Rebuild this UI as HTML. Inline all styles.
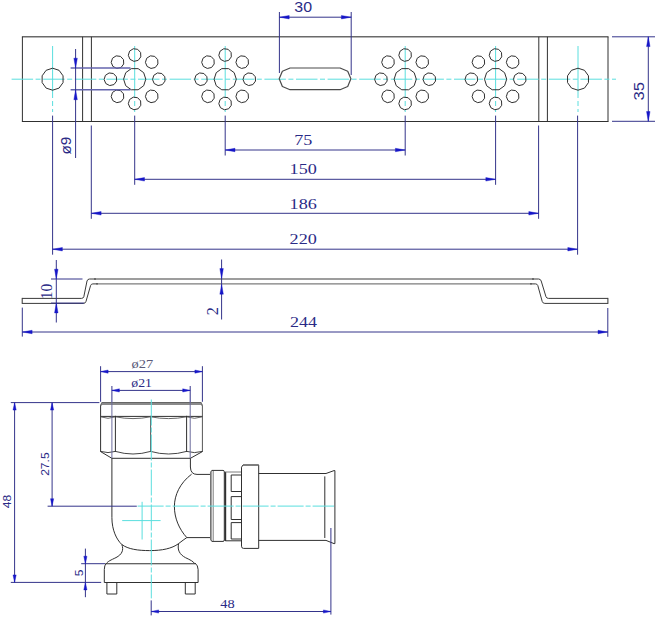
<!DOCTYPE html>
<html lang="en">
<head>
<meta charset="utf-8">
<title>Mounting plate and press fitting - dimensional drawing</title>
<style>
html,body{margin:0;padding:0;background:#ffffff;}
body{width:655px;height:619px;overflow:hidden;font-family:"Liberation Sans",sans-serif;}
svg{display:block;}
</style>
</head>
<body>
<svg width="655" height="619" viewBox="0 0 655 619" fill="none" stroke-linecap="butt">
<rect x="0" y="0" width="655" height="619" fill="#ffffff"/>
<line x1="21.90" y1="36.80" x2="608.50" y2="36.80" stroke="#6a6a6a" stroke-width="1.4" />
<line x1="22.40" y1="36.80" x2="22.40" y2="121.50" stroke="#303030" stroke-width="1.0" />
<line x1="608.00" y1="36.80" x2="608.00" y2="121.50" stroke="#303030" stroke-width="1.0" />
<line x1="21.90" y1="121.50" x2="608.50" y2="121.50" stroke="#303030" stroke-width="1.0" />
<line x1="82.60" y1="36.80" x2="82.60" y2="121.50" stroke="#303030" stroke-width="1.0" />
<line x1="91.40" y1="36.80" x2="91.40" y2="121.50" stroke="#303030" stroke-width="1.0" />
<line x1="538.80" y1="36.80" x2="538.80" y2="121.50" stroke="#303030" stroke-width="1.0" />
<line x1="547.40" y1="36.80" x2="547.40" y2="121.50" stroke="#303030" stroke-width="1.0" />
<line x1="11.60" y1="79.20" x2="616.00" y2="79.20" stroke="#5adede" stroke-width="1.0" stroke-dasharray="21.5 2.5 5 2.6"/>
<line x1="52.60" y1="46.00" x2="52.60" y2="112.00" stroke="#5adede" stroke-width="1.0" stroke-dasharray="52 3 5 3"/>
<line x1="134.70" y1="46.00" x2="134.70" y2="112.00" stroke="#5adede" stroke-width="1.0" stroke-dasharray="52 3 5 3"/>
<line x1="225.20" y1="46.00" x2="225.20" y2="112.00" stroke="#5adede" stroke-width="1.0" stroke-dasharray="52 3 5 3"/>
<line x1="405.20" y1="46.00" x2="405.20" y2="112.00" stroke="#5adede" stroke-width="1.0" stroke-dasharray="52 3 5 3"/>
<line x1="495.60" y1="46.00" x2="495.60" y2="112.00" stroke="#5adede" stroke-width="1.0" stroke-dasharray="52 3 5 3"/>
<line x1="578.00" y1="46.00" x2="578.00" y2="112.00" stroke="#5adede" stroke-width="1.0" stroke-dasharray="52 3 5 3"/>
<polygon points="52.60,90.20 46.13,88.10 42.14,82.60 42.14,75.80 46.13,70.30 52.60,68.20 59.07,70.30 63.06,75.80 63.06,82.60 59.07,88.10" stroke="#303030" stroke-width="1.0" fill="none" stroke-linejoin="round"/>
<polygon points="578.00,90.20 571.53,88.10 567.54,82.60 567.54,75.80 571.53,70.30 578.00,68.20 584.47,70.30 588.46,75.80 588.46,82.60 584.47,88.10" stroke="#303030" stroke-width="1.0" fill="none" stroke-linejoin="round"/>
<polygon points="145.80,79.20 143.68,85.72 138.13,89.76 131.27,89.76 125.72,85.72 123.60,79.20 125.72,72.68 131.27,68.64 138.13,68.64 143.68,72.68" stroke="#303030" stroke-width="1.0" fill="none" stroke-linejoin="round"/>
<polygon points="165.01,81.09 162.37,84.58 158.10,85.55 154.20,83.55 152.51,79.51 153.80,75.33 157.48,72.96 161.82,73.51 164.80,76.72" stroke="#303030" stroke-width="1.0" fill="none" stroke-linejoin="round"/>
<polygon points="157.93,98.20 155.28,101.69 151.01,102.66 147.12,100.66 145.42,96.63 146.71,92.44 150.39,90.07 154.74,90.62 157.71,93.83" stroke="#303030" stroke-width="1.0" fill="none" stroke-linejoin="round"/>
<polygon points="140.81,105.29 138.17,108.78 133.90,109.75 130.00,107.75 128.31,103.71 129.60,99.53 133.28,97.16 137.62,97.71 140.60,100.92" stroke="#303030" stroke-width="1.0" fill="none" stroke-linejoin="round"/>
<polygon points="123.70,98.20 121.06,101.69 116.79,102.66 112.89,100.66 111.20,96.63 112.49,92.44 116.17,90.07 120.51,90.62 123.49,93.83" stroke="#303030" stroke-width="1.0" fill="none" stroke-linejoin="round"/>
<polygon points="116.61,81.09 113.97,84.58 109.70,85.55 105.80,83.55 104.11,79.51 105.40,75.33 109.08,72.96 113.42,73.51 116.40,76.72" stroke="#303030" stroke-width="1.0" fill="none" stroke-linejoin="round"/>
<polygon points="123.70,63.98 121.06,67.47 116.79,68.44 112.89,66.44 111.20,62.40 112.49,58.22 116.17,55.85 120.51,56.40 123.49,59.61" stroke="#303030" stroke-width="1.0" fill="none" stroke-linejoin="round"/>
<polygon points="140.81,56.89 138.17,60.38 133.90,61.35 130.00,59.35 128.31,55.31 129.60,51.13 133.28,48.76 137.62,49.31 140.60,52.52" stroke="#303030" stroke-width="1.0" fill="none" stroke-linejoin="round"/>
<polygon points="157.93,63.98 155.28,67.47 151.01,68.44 147.12,66.44 145.42,62.40 146.71,58.22 150.39,55.85 154.74,56.40 157.71,59.61" stroke="#303030" stroke-width="1.0" fill="none" stroke-linejoin="round"/>
<polygon points="236.30,79.20 234.18,85.72 228.63,89.76 221.77,89.76 216.22,85.72 214.10,79.20 216.22,72.68 221.77,68.64 228.63,68.64 234.18,72.68" stroke="#303030" stroke-width="1.0" fill="none" stroke-linejoin="round"/>
<polygon points="255.51,81.09 252.87,84.58 248.60,85.55 244.70,83.55 243.01,79.51 244.30,75.33 247.98,72.96 252.32,73.51 255.30,76.72" stroke="#303030" stroke-width="1.0" fill="none" stroke-linejoin="round"/>
<polygon points="248.43,98.20 245.78,101.69 241.51,102.66 237.62,100.66 235.92,96.63 237.21,92.44 240.89,90.07 245.24,90.62 248.21,93.83" stroke="#303030" stroke-width="1.0" fill="none" stroke-linejoin="round"/>
<polygon points="231.31,105.29 228.67,108.78 224.40,109.75 220.50,107.75 218.81,103.71 220.10,99.53 223.78,97.16 228.12,97.71 231.10,100.92" stroke="#303030" stroke-width="1.0" fill="none" stroke-linejoin="round"/>
<polygon points="214.20,98.20 211.56,101.69 207.29,102.66 203.39,100.66 201.70,96.63 202.99,92.44 206.67,90.07 211.01,90.62 213.99,93.83" stroke="#303030" stroke-width="1.0" fill="none" stroke-linejoin="round"/>
<polygon points="207.11,81.09 204.47,84.58 200.20,85.55 196.30,83.55 194.61,79.51 195.90,75.33 199.58,72.96 203.92,73.51 206.90,76.72" stroke="#303030" stroke-width="1.0" fill="none" stroke-linejoin="round"/>
<polygon points="214.20,63.98 211.56,67.47 207.29,68.44 203.39,66.44 201.70,62.40 202.99,58.22 206.67,55.85 211.01,56.40 213.99,59.61" stroke="#303030" stroke-width="1.0" fill="none" stroke-linejoin="round"/>
<polygon points="231.31,56.89 228.67,60.38 224.40,61.35 220.50,59.35 218.81,55.31 220.10,51.13 223.78,48.76 228.12,49.31 231.10,52.52" stroke="#303030" stroke-width="1.0" fill="none" stroke-linejoin="round"/>
<polygon points="248.43,63.98 245.78,67.47 241.51,68.44 237.62,66.44 235.92,62.40 237.21,58.22 240.89,55.85 245.24,56.40 248.21,59.61" stroke="#303030" stroke-width="1.0" fill="none" stroke-linejoin="round"/>
<polygon points="416.30,79.20 414.18,85.72 408.63,89.76 401.77,89.76 396.22,85.72 394.10,79.20 396.22,72.68 401.77,68.64 408.63,68.64 414.18,72.68" stroke="#303030" stroke-width="1.0" fill="none" stroke-linejoin="round"/>
<polygon points="435.51,81.09 432.87,84.58 428.60,85.55 424.70,83.55 423.01,79.51 424.30,75.33 427.98,72.96 432.32,73.51 435.30,76.72" stroke="#303030" stroke-width="1.0" fill="none" stroke-linejoin="round"/>
<polygon points="428.43,98.20 425.78,101.69 421.51,102.66 417.62,100.66 415.92,96.63 417.21,92.44 420.89,90.07 425.24,90.62 428.21,93.83" stroke="#303030" stroke-width="1.0" fill="none" stroke-linejoin="round"/>
<polygon points="411.31,105.29 408.67,108.78 404.40,109.75 400.50,107.75 398.81,103.71 400.10,99.53 403.78,97.16 408.12,97.71 411.10,100.92" stroke="#303030" stroke-width="1.0" fill="none" stroke-linejoin="round"/>
<polygon points="394.20,98.20 391.56,101.69 387.29,102.66 383.39,100.66 381.70,96.63 382.99,92.44 386.67,90.07 391.01,90.62 393.99,93.83" stroke="#303030" stroke-width="1.0" fill="none" stroke-linejoin="round"/>
<polygon points="387.11,81.09 384.47,84.58 380.20,85.55 376.30,83.55 374.61,79.51 375.90,75.33 379.58,72.96 383.92,73.51 386.90,76.72" stroke="#303030" stroke-width="1.0" fill="none" stroke-linejoin="round"/>
<polygon points="394.20,63.98 391.56,67.47 387.29,68.44 383.39,66.44 381.70,62.40 382.99,58.22 386.67,55.85 391.01,56.40 393.99,59.61" stroke="#303030" stroke-width="1.0" fill="none" stroke-linejoin="round"/>
<polygon points="411.31,56.89 408.67,60.38 404.40,61.35 400.50,59.35 398.81,55.31 400.10,51.13 403.78,48.76 408.12,49.31 411.10,52.52" stroke="#303030" stroke-width="1.0" fill="none" stroke-linejoin="round"/>
<polygon points="428.43,63.98 425.78,67.47 421.51,68.44 417.62,66.44 415.92,62.40 417.21,58.22 420.89,55.85 425.24,56.40 428.21,59.61" stroke="#303030" stroke-width="1.0" fill="none" stroke-linejoin="round"/>
<polygon points="506.70,79.20 504.58,85.72 499.03,89.76 492.17,89.76 486.62,85.72 484.50,79.20 486.62,72.68 492.17,68.64 499.03,68.64 504.58,72.68" stroke="#303030" stroke-width="1.0" fill="none" stroke-linejoin="round"/>
<polygon points="525.91,81.09 523.27,84.58 519.00,85.55 515.10,83.55 513.41,79.51 514.70,75.33 518.38,72.96 522.72,73.51 525.70,76.72" stroke="#303030" stroke-width="1.0" fill="none" stroke-linejoin="round"/>
<polygon points="518.83,98.20 516.18,101.69 511.91,102.66 508.02,100.66 506.32,96.63 507.61,92.44 511.29,90.07 515.64,90.62 518.61,93.83" stroke="#303030" stroke-width="1.0" fill="none" stroke-linejoin="round"/>
<polygon points="501.71,105.29 499.07,108.78 494.80,109.75 490.90,107.75 489.21,103.71 490.50,99.53 494.18,97.16 498.52,97.71 501.50,100.92" stroke="#303030" stroke-width="1.0" fill="none" stroke-linejoin="round"/>
<polygon points="484.60,98.20 481.96,101.69 477.69,102.66 473.79,100.66 472.10,96.63 473.39,92.44 477.07,90.07 481.41,90.62 484.39,93.83" stroke="#303030" stroke-width="1.0" fill="none" stroke-linejoin="round"/>
<polygon points="477.51,81.09 474.87,84.58 470.60,85.55 466.70,83.55 465.01,79.51 466.30,75.33 469.98,72.96 474.32,73.51 477.30,76.72" stroke="#303030" stroke-width="1.0" fill="none" stroke-linejoin="round"/>
<polygon points="484.60,63.98 481.96,67.47 477.69,68.44 473.79,66.44 472.10,62.40 473.39,58.22 477.07,55.85 481.41,56.40 484.39,59.61" stroke="#303030" stroke-width="1.0" fill="none" stroke-linejoin="round"/>
<polygon points="501.71,56.89 499.07,60.38 494.80,61.35 490.90,59.35 489.21,55.31 490.50,51.13 494.18,48.76 498.52,49.31 501.50,52.52" stroke="#303030" stroke-width="1.0" fill="none" stroke-linejoin="round"/>
<polygon points="518.83,63.98 516.18,67.47 511.91,68.44 508.02,66.44 506.32,62.40 507.61,58.22 511.29,55.85 515.64,56.40 518.61,59.61" stroke="#303030" stroke-width="1.0" fill="none" stroke-linejoin="round"/>
<polygon points="340.05,68.00 347.72,71.18 350.90,78.85 347.72,86.52 340.05,89.70 290.05,89.70 282.38,86.52 279.20,78.85 282.38,71.18 290.05,68.00" fill="none" stroke="#4a4a4a" stroke-width="1.2" stroke-linejoin="round"/>
<line x1="279.40" y1="12.00" x2="279.40" y2="73.00" stroke="#34348a" stroke-width="1.0" />
<line x1="351.20" y1="12.00" x2="351.20" y2="75.00" stroke="#34348a" stroke-width="1.0" />
<line x1="279.40" y1="17.20" x2="351.20" y2="17.20" stroke="#34348a" stroke-width="1.0" />
<polygon points="279.40,17.20 289.20,15.45 289.20,18.95" fill="#1616c8" stroke="#1616c8" stroke-width="0.4"/>
<polygon points="351.20,17.20 341.40,15.45 341.40,18.95" fill="#1616c8" stroke="#1616c8" stroke-width="0.4"/>
<text transform="translate(303.20,12.40) scale(1.1,1)" text-anchor="middle" font-family='"Liberation Sans", sans-serif' font-size="14.5px" fill="#2a2a86" >30</text>
<line x1="612.00" y1="36.80" x2="655.00" y2="36.80" stroke="#34348a" stroke-width="1.0" />
<line x1="612.00" y1="121.30" x2="655.00" y2="121.30" stroke="#34348a" stroke-width="1.0" />
<line x1="648.30" y1="36.80" x2="648.30" y2="121.30" stroke="#34348a" stroke-width="1.0" />
<polygon points="648.30,36.80 646.55,46.60 650.05,46.60" fill="#1616c8" stroke="#1616c8" stroke-width="0.4"/>
<polygon points="648.30,121.30 646.55,111.50 650.05,111.50" fill="#1616c8" stroke="#1616c8" stroke-width="0.4"/>
<text transform="translate(644.10,91.30) rotate(-90) scale(1.15,1)" text-anchor="middle" font-family='"Liberation Sans", sans-serif' font-size="14.5px" fill="#2a2a86" >35</text>
<line x1="70.60" y1="68.00" x2="130.50" y2="68.00" stroke="#6464ae" stroke-width="1.5" />
<line x1="70.60" y1="89.80" x2="130.50" y2="89.80" stroke="#6464ae" stroke-width="1.5" />
<line x1="75.60" y1="49.00" x2="75.60" y2="158.00" stroke="#34348a" stroke-width="1.0" />
<polygon points="75.60,68.00 73.85,58.20 77.35,58.20" fill="#1616c8" stroke="#1616c8" stroke-width="0.4"/>
<polygon points="75.60,89.90 73.85,99.70 77.35,99.70" fill="#1616c8" stroke="#1616c8" stroke-width="0.4"/>
<text transform="translate(70.90,145.60) rotate(-90) scale(1.1,1)" text-anchor="middle" font-family='"Liberation Sans", sans-serif' font-size="14.0px" fill="#2a2a86" >&#248;9</text>
<line x1="225.20" y1="115.60" x2="225.20" y2="155.50" stroke="#34348a" stroke-width="1.0" />
<line x1="405.20" y1="115.60" x2="405.20" y2="155.50" stroke="#34348a" stroke-width="1.0" />
<line x1="225.20" y1="150.00" x2="405.20" y2="150.00" stroke="#34348a" stroke-width="1.0" />
<polygon points="225.20,150.00 235.00,148.25 235.00,151.75" fill="#1616c8" stroke="#1616c8" stroke-width="0.4"/>
<polygon points="405.20,150.00 395.40,148.25 395.40,151.75" fill="#1616c8" stroke="#1616c8" stroke-width="0.4"/>
<text transform="translate(303.20,145.40) scale(1.17,1)" text-anchor="middle" font-family='"Liberation Serif", serif' font-size="15.5px" fill="#2a2a86" >75</text>
<line x1="134.70" y1="115.60" x2="134.70" y2="184.80" stroke="#34348a" stroke-width="1.0" />
<line x1="495.60" y1="115.60" x2="495.60" y2="184.80" stroke="#34348a" stroke-width="1.0" />
<line x1="134.70" y1="179.30" x2="495.60" y2="179.30" stroke="#34348a" stroke-width="1.0" />
<polygon points="134.70,179.30 144.50,177.55 144.50,181.05" fill="#1616c8" stroke="#1616c8" stroke-width="0.4"/>
<polygon points="495.60,179.30 485.80,177.55 485.80,181.05" fill="#1616c8" stroke="#1616c8" stroke-width="0.4"/>
<text transform="translate(303.20,174.10) scale(1.17,1)" text-anchor="middle" font-family='"Liberation Serif", serif' font-size="15.5px" fill="#2a2a86" >150</text>
<line x1="91.30" y1="125.50" x2="91.30" y2="218.80" stroke="#34348a" stroke-width="1.0" />
<line x1="538.60" y1="125.50" x2="538.60" y2="218.80" stroke="#34348a" stroke-width="1.0" />
<line x1="91.30" y1="213.30" x2="538.60" y2="213.30" stroke="#34348a" stroke-width="1.0" />
<polygon points="91.30,213.30 101.10,211.55 101.10,215.05" fill="#1616c8" stroke="#1616c8" stroke-width="0.4"/>
<polygon points="538.60,213.30 528.80,211.55 528.80,215.05" fill="#1616c8" stroke="#1616c8" stroke-width="0.4"/>
<text transform="translate(303.20,208.90) scale(1.17,1)" text-anchor="middle" font-family='"Liberation Serif", serif' font-size="15.5px" fill="#2a2a86" >186</text>
<line x1="52.60" y1="115.60" x2="52.60" y2="254.70" stroke="#34348a" stroke-width="1.0" />
<line x1="577.60" y1="115.60" x2="577.60" y2="254.70" stroke="#34348a" stroke-width="1.0" />
<line x1="52.60" y1="249.20" x2="577.60" y2="249.20" stroke="#34348a" stroke-width="1.0" />
<polygon points="52.60,249.20 62.40,247.45 62.40,250.95" fill="#1616c8" stroke="#1616c8" stroke-width="0.4"/>
<polygon points="577.60,249.20 567.80,247.45 567.80,250.95" fill="#1616c8" stroke="#1616c8" stroke-width="0.4"/>
<text transform="translate(303.20,243.90) scale(1.17,1)" text-anchor="middle" font-family='"Liberation Serif", serif' font-size="15.5px" fill="#2a2a86" >220</text>
<line x1="94.00" y1="279.00" x2="534.00" y2="279.00" stroke="#7d7d7d" stroke-width="1.3" />
<line x1="96.00" y1="283.90" x2="532.00" y2="283.90" stroke="#7d7d7d" stroke-width="1.3" />
<path d="M22.2,298.4 H81.6 Q83.2,298.4 83.8,296.79999999999995 L87.0,281.0 Q87.6,279.0 89.6,279.0 H96" stroke="#3a3a3a" stroke-width="1.0" fill="none" />
<path d="M22.2,303.4 H83.4 Q85.4,303.4 86.0,301.4 L90.6,285.5 Q91.2,283.9 92.8,283.9 H98" stroke="#3a3a3a" stroke-width="1.0" fill="none" />
<path d="M532,279.0 H538.6 Q540.6,279.0 541.2,281.0 L546.0,296.79999999999995 Q546.6,298.4 548.6,298.4 H607.9" stroke="#3a3a3a" stroke-width="1.0" fill="none" />
<path d="M530,283.9 H535.6 Q537.2,283.9 537.8,285.5 L542.2,301.4 Q542.8,303.4 544.8,303.4 H607.9" stroke="#3a3a3a" stroke-width="1.0" fill="none" />
<line x1="22.20" y1="297.90" x2="22.20" y2="303.90" stroke="#303030" stroke-width="1.0" />
<line x1="607.90" y1="297.90" x2="607.90" y2="303.90" stroke="#303030" stroke-width="1.0" />
<line x1="51.00" y1="279.00" x2="82.50" y2="279.00" stroke="#34348a" stroke-width="1.0" />
<line x1="51.00" y1="303.10" x2="84.00" y2="303.10" stroke="#34348a" stroke-width="1.0" />
<line x1="56.30" y1="260.00" x2="56.30" y2="322.50" stroke="#34348a" stroke-width="1.0" />
<polygon points="56.30,279.00 54.55,269.20 58.05,269.20" fill="#1616c8" stroke="#1616c8" stroke-width="0.4"/>
<polygon points="56.30,303.10 54.55,312.90 58.05,312.90" fill="#1616c8" stroke="#1616c8" stroke-width="0.4"/>
<text transform="translate(52.10,291.40) rotate(-90) scale(0.97,1)" text-anchor="middle" font-family='"Liberation Serif", serif' font-size="16.0px" fill="#2a2a86" >10</text>
<line x1="221.60" y1="259.50" x2="221.60" y2="319.50" stroke="#34348a" stroke-width="1.0" />
<polygon points="221.60,278.40 219.85,268.60 223.35,268.60" fill="#1616c8" stroke="#1616c8" stroke-width="0.4"/>
<polygon points="221.60,284.40 219.85,294.20 223.35,294.20" fill="#1616c8" stroke="#1616c8" stroke-width="0.4"/>
<text transform="translate(218.20,311.30) rotate(-90) scale(1.0,1)" text-anchor="middle" font-family='"Liberation Serif", serif' font-size="16.2px" fill="#2a2a86" >2</text>
<line x1="22.30" y1="307.60" x2="22.30" y2="336.60" stroke="#34348a" stroke-width="1.0" />
<line x1="607.80" y1="308.00" x2="607.80" y2="336.80" stroke="#34348a" stroke-width="1.0" />
<line x1="22.30" y1="332.00" x2="607.80" y2="332.00" stroke="#34348a" stroke-width="1.0" />
<polygon points="22.30,332.00 32.10,330.25 32.10,333.75" fill="#1616c8" stroke="#1616c8" stroke-width="0.4"/>
<polygon points="607.80,332.00 598.00,330.25 598.00,333.75" fill="#1616c8" stroke="#1616c8" stroke-width="0.4"/>
<text transform="translate(303.40,327.30) scale(1.2,1)" text-anchor="middle" font-family='"Liberation Serif", serif' font-size="15px" fill="#2a2a86" >244</text>
<path d="M100.6,405.6 L102.19999999999999,402.6 H200.8 L202.4,405.6" stroke="#5a5a5a" stroke-width="1.3" fill="none" />
<line x1="101.60" y1="403.90" x2="201.40" y2="403.90" stroke="#8a8a8a" stroke-width="2.2" />
<line x1="100.60" y1="405.30" x2="100.60" y2="451.80" stroke="#303030" stroke-width="1.0" />
<line x1="202.40" y1="405.30" x2="202.40" y2="451.80" stroke="#555555" stroke-width="1.0" />
<line x1="100.60" y1="416.40" x2="202.40" y2="416.40" stroke="#303030" stroke-width="1.0" />
<path d="M100.6,416.8 Q108.0,419.8 115.4,416.8" stroke="#555555" stroke-width="0.9" fill="none" />
<path d="M115.4,416.8 Q133.0,420.40000000000003 150.6,416.8" stroke="#555555" stroke-width="0.9" fill="none" />
<path d="M150.6,416.8 Q168.6,420.40000000000003 186.6,416.8" stroke="#555555" stroke-width="0.9" fill="none" />
<path d="M186.6,416.8 Q194.5,419.8 202.4,416.8" stroke="#555555" stroke-width="0.9" fill="none" />
<line x1="115.40" y1="415.80" x2="115.40" y2="452.00" stroke="#303030" stroke-width="1.0" />
<line x1="150.60" y1="415.80" x2="150.60" y2="452.00" stroke="#555555" stroke-width="1.0" />
<line x1="186.60" y1="415.80" x2="186.60" y2="452.00" stroke="#303030" stroke-width="1.0" />
<path d="M100.6,451.4 Q108.0,453.79999999999995 115.4,451.4" stroke="#303030" stroke-width="0.9" fill="none" />
<path d="M115.4,451.4 Q133.0,456.59999999999997 150.6,451.4" stroke="#303030" stroke-width="0.9" fill="none" />
<path d="M150.6,451.4 Q168.6,456.59999999999997 186.6,451.4" stroke="#303030" stroke-width="0.9" fill="none" />
<path d="M186.6,451.4 Q194.5,453.79999999999995 202.4,451.4" stroke="#303030" stroke-width="0.9" fill="none" />
<path d="M100.6,451.6 L111.9,458.3 H190.4 L202.4,451.6" stroke="#303030" stroke-width="1.0" fill="none" />
<path d="M111.9,458.3 V517.5 C111.9,530 116.5,539.5 121.8,544.5 C128,549.2 138,550.6 149.6,550.6 C162,550.6 172,548.6 178.6,543.6 C182,541 184.4,539.2 186.8,537.6 H210.4" stroke="#303030" stroke-width="1.0" fill="none" />
<path d="M190.4,458.3 V467.0 Q190.6,474.4 197.0,474.4 H210.4" stroke="#303030" stroke-width="1.0" fill="none" />
<path d="M191.6,474.2 C180,483 174.4,495 174.4,506.5 C174.4,518 179,529 186.8,537.6" stroke="#303030" stroke-width="1.0" fill="none" />
<path d="M121.8,544.5 C124,550 122,554.5 116,557.6 C111,560 107.6,561.4 106.4,563.6" stroke="#303030" stroke-width="1.0" fill="none" />
<path d="M178.6,543.6 C177.2,550 179.6,554.5 185.4,557.6 C190.4,560 193.4,561.4 194.6,563.6" stroke="#303030" stroke-width="1.0" fill="none" />
<line x1="105.60" y1="563.70" x2="195.40" y2="563.70" stroke="#303030" stroke-width="1.1" />
<path d="M106.4,563.0 Q104.3,565.5 104.3,569.5 V582.5 H198.1 V569.5 Q198.1,565.5 195.0,563.0" stroke="#303030" stroke-width="1.0" fill="none" />
<path d="M106.9,582.5 V594.0 H116.8 V582.5" stroke="#303030" stroke-width="1.0" fill="none" />
<path d="M185.3,582.5 V594.0 H195.2 V582.5" stroke="#303030" stroke-width="1.0" fill="none" />
<path d="M211.8,470.4 H223.0 Q224.3,470.4 224.3,471.8 V540.0 Q224.3,541.4 223.0,541.4 H211.8 L210.5,539.4 V472.4 Z" stroke="#303030" stroke-width="1.0" fill="none" />
<line x1="210.90" y1="472.00" x2="210.90" y2="540.00" stroke="#7d7d7d" stroke-width="1.6" />
<line x1="213.20" y1="471.00" x2="213.20" y2="541.00" stroke="#7d7d7d" stroke-width="1.0" />
<line x1="225.40" y1="471.80" x2="225.40" y2="541.00" stroke="#303030" stroke-width="1.6" />
<line x1="225.40" y1="472.00" x2="241.60" y2="472.00" stroke="#7d7d7d" stroke-width="1.0" />
<line x1="225.40" y1="540.80" x2="241.60" y2="540.80" stroke="#303030" stroke-width="1.0" />
<path d="M241.6,475.0 H231.2 V491.5 H241.6" stroke="#303030" stroke-width="1.0" fill="none" />
<path d="M241.6,496.6 H231.2 V519.5 H241.6" stroke="#303030" stroke-width="1.0" fill="none" />
<path d="M241.6,522.6 H231.2 V539.0 H241.6" stroke="#303030" stroke-width="1.0" fill="none" />
<path d="M241.5,467.2 L243.0,465.0 H258.7 V548.4 H243.6 Q241.5,548.4 241.5,546.2 Z" stroke="#303030" stroke-width="1.0" fill="#ffffff" />
<line x1="243.00" y1="465.00" x2="258.70" y2="465.00" stroke="#777777" stroke-width="1.5" />
<path d="M258.7,473.5 H326.0 L334.0,470.6 H334.9 V543.6 H334.0 L326.0,540.4 H258.7" stroke="#303030" stroke-width="1.0" fill="none" />
<line x1="324.80" y1="476.40" x2="324.80" y2="538.00" stroke="#303030" stroke-width="1.0" />
<line x1="151.30" y1="399.50" x2="151.30" y2="598.40" stroke="#5adede" stroke-width="1.0" stroke-dasharray="26 2 5 2"/>
<line x1="137.60" y1="506.10" x2="334.00" y2="506.10" stroke="#5adede" stroke-width="1.0" stroke-dasharray="26 2 5 2"/>
<line x1="122.20" y1="520.60" x2="160.60" y2="520.60" stroke="#5adede" stroke-width="1.0" />
<line x1="142.10" y1="501.80" x2="142.10" y2="539.50" stroke="#5adede" stroke-width="1.0" />
<line x1="100.60" y1="366.20" x2="100.60" y2="401.80" stroke="#34348a" stroke-width="1.0" />
<line x1="202.40" y1="366.20" x2="202.40" y2="401.80" stroke="#34348a" stroke-width="1.0" />
<line x1="100.60" y1="371.60" x2="202.40" y2="371.60" stroke="#34348a" stroke-width="1.0" />
<polygon points="100.60,371.60 108.10,370.00 108.10,373.20" fill="#1616c8" stroke="#1616c8" stroke-width="0.4"/>
<polygon points="202.40,371.60 194.90,370.00 194.90,373.20" fill="#1616c8" stroke="#1616c8" stroke-width="0.4"/>
<text transform="translate(142.30,368.30) scale(1.26,1)" text-anchor="middle" font-family='"Liberation Serif", serif' font-size="11.5px" fill="#5a5a78" >&#248;27</text>
<line x1="111.90" y1="386.00" x2="111.90" y2="402.00" stroke="#34348a" stroke-width="1.0" />
<line x1="111.90" y1="402.00" x2="111.90" y2="458.00" stroke="#6a6a9c" stroke-width="1.0" />
<line x1="190.20" y1="386.00" x2="190.20" y2="402.00" stroke="#34348a" stroke-width="1.0" />
<line x1="190.20" y1="402.00" x2="190.20" y2="458.00" stroke="#6a6a9c" stroke-width="1.0" />
<line x1="111.90" y1="390.40" x2="190.20" y2="390.40" stroke="#34348a" stroke-width="1.0" />
<polygon points="111.90,390.40 119.40,388.80 119.40,392.00" fill="#1616c8" stroke="#1616c8" stroke-width="0.4"/>
<polygon points="190.20,390.40 182.70,388.80 182.70,392.00" fill="#1616c8" stroke="#1616c8" stroke-width="0.4"/>
<text transform="translate(141.60,387.10) scale(1.2,1)" text-anchor="middle" font-family='"Liberation Serif", serif' font-size="11.5px" fill="#2a2a86" >&#248;21</text>
<line x1="10.80" y1="402.60" x2="99.40" y2="402.60" stroke="#34348a" stroke-width="1.0" />
<line x1="10.80" y1="582.40" x2="101.20" y2="582.40" stroke="#34348a" stroke-width="1.0" />
<line x1="14.60" y1="402.60" x2="14.60" y2="582.40" stroke="#34348a" stroke-width="1.0" />
<polygon points="14.60,402.60 13.00,410.10 16.20,410.10" fill="#1616c8" stroke="#1616c8" stroke-width="0.4"/>
<polygon points="14.60,582.40 13.00,574.90 16.20,574.90" fill="#1616c8" stroke="#1616c8" stroke-width="0.4"/>
<text transform="translate(11.20,501.60) rotate(-90) scale(1.15,1)" text-anchor="middle" font-family='"Liberation Sans", sans-serif' font-size="10.5px" fill="#2a2a86" >48</text>
<line x1="52.10" y1="402.60" x2="52.10" y2="506.20" stroke="#34348a" stroke-width="1.0" />
<line x1="47.60" y1="506.20" x2="136.80" y2="506.20" stroke="#34348a" stroke-width="1.0" />
<polygon points="52.10,402.60 50.50,410.10 53.70,410.10" fill="#1616c8" stroke="#1616c8" stroke-width="0.4"/>
<polygon points="52.10,506.20 50.50,498.70 53.70,498.70" fill="#1616c8" stroke="#1616c8" stroke-width="0.4"/>
<text transform="translate(49.20,464.10) rotate(-90) scale(1.15,1)" text-anchor="middle" font-family='"Liberation Sans", sans-serif' font-size="10.5px" fill="#2a2a86" >27.5</text>
<line x1="81.20" y1="563.70" x2="105.00" y2="563.70" stroke="#34348a" stroke-width="1.0" />
<line x1="85.40" y1="548.60" x2="85.40" y2="597.20" stroke="#34348a" stroke-width="1.0" />
<polygon points="85.40,563.70 83.80,556.20 87.00,556.20" fill="#1616c8" stroke="#1616c8" stroke-width="0.4"/>
<polygon points="85.40,582.40 83.80,589.90 87.00,589.90" fill="#1616c8" stroke="#1616c8" stroke-width="0.4"/>
<text transform="translate(82.60,573.00) rotate(-90) scale(1.15,1)" text-anchor="middle" font-family='"Liberation Sans", sans-serif' font-size="10.5px" fill="#2a2a86" >5</text>
<line x1="151.20" y1="600.40" x2="151.20" y2="615.40" stroke="#34348a" stroke-width="1.0" />
<line x1="330.90" y1="528.00" x2="330.90" y2="614.60" stroke="#34348a" stroke-width="1.0" />
<line x1="151.20" y1="611.50" x2="330.90" y2="611.50" stroke="#34348a" stroke-width="1.0" />
<polygon points="151.20,611.50 158.70,609.90 158.70,613.10" fill="#1616c8" stroke="#1616c8" stroke-width="0.4"/>
<polygon points="330.90,611.50 323.40,609.90 323.40,613.10" fill="#1616c8" stroke="#1616c8" stroke-width="0.4"/>
<text transform="translate(227.50,607.90) scale(1.25,1)" text-anchor="middle" font-family='"Liberation Serif", serif' font-size="11.5px" fill="#2a2a86" >48</text>
</svg>
</body>
</html>
